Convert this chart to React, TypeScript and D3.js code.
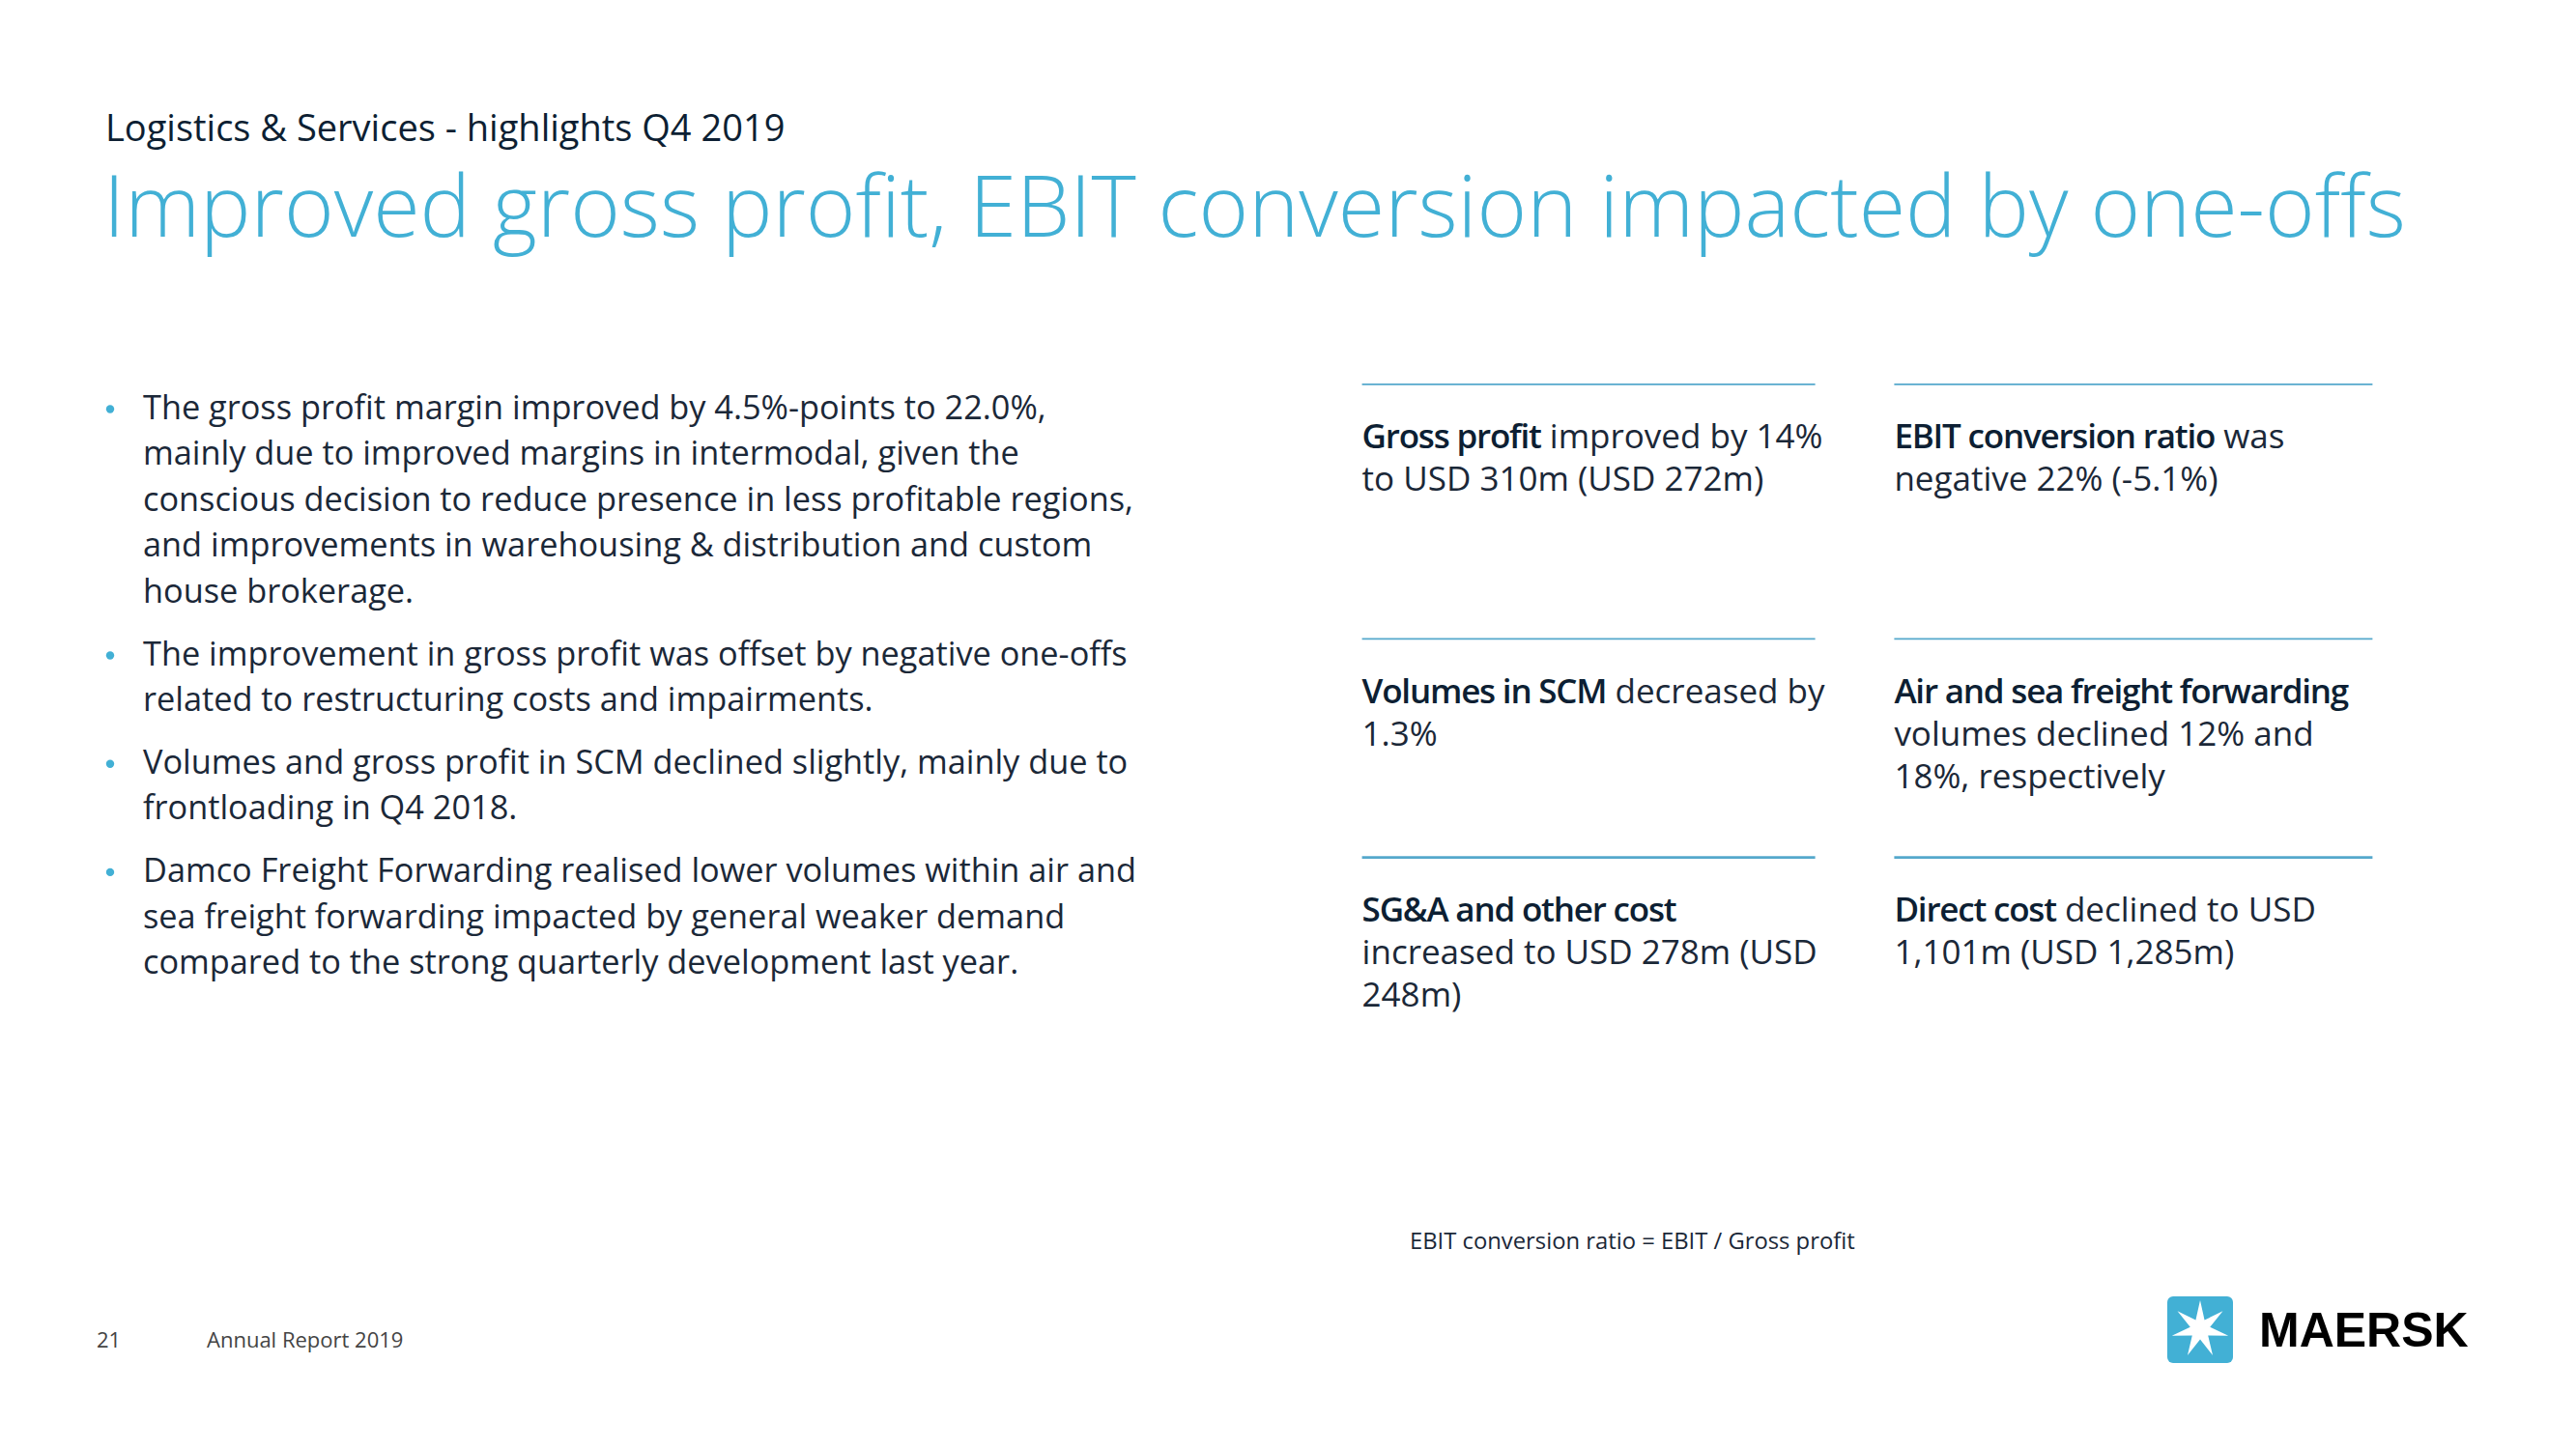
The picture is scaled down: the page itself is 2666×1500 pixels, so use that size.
import React from "react";
import * as d3 from "d3";

const subtitle = "Logistics & Services - highlights Q4 2019";
const title = "Improved gross profit, EBIT conversion impacted by one-offs";

const bullets: string[][] = [
  [
    "The gross profit margin improved by 4.5%-points to 22.0%,",
    "mainly due to improved margins in intermodal, given the",
    "conscious decision to reduce presence in less profitable regions,",
    "and improvements in warehousing & distribution and custom",
    "house brokerage.",
  ],
  [
    "The improvement in gross profit was offset by negative one-offs",
    "related to restructuring costs and impairments.",
  ],
  [
    "Volumes and gross profit in SCM declined slightly, mainly due to",
    "frontloading in Q4 2018.",
  ],
  [
    "Damco Freight Forwarding realised lower volumes within air and",
    "sea freight forwarding impacted by general weaker demand",
    "compared to the strong quarterly development last year.",
  ],
];

const panelRows = ["row1", "row2", "row3"];
const panelCols = ["left", "right"];
// lines with **bold** markup
const panels: { row: string; col: string; lines: string[] }[] = [
  { row: "row1", col: "left", lines: ["**Gross profit** improved by 14%", "to USD 310m (USD 272m)"] },
  { row: "row1", col: "right", lines: ["**EBIT conversion ratio** was", "negative 22% (-5.1%)"] },
  { row: "row2", col: "left", lines: ["**Volumes in SCM** decreased by", "1.3%"] },
  { row: "row2", col: "right", lines: ["**Air and sea freight forwarding**", "volumes declined 12% and", "18%, respectively"] },
  { row: "row3", col: "left", lines: ["**SG&A and other cost**", "increased to USD 278m (USD", "248m)"] },
  { row: "row3", col: "right", lines: ["**Direct cost** declined to USD", "1,101m (USD 1,285m)"] },
];

const footnote = "EBIT conversion ratio = EBIT / Gross profit";
const pageNumber = "21";
const reportLabel = "Annual Report 2019";
const brand = "MAERSK";

const BLUE = "#42b0d5";
const NAVY = "#0d1f33";
const TEXT = "#1b2838";
const FONT = "'Open Sans', 'Noto Sans', sans-serif";

function parseSegments(line: string) {
  return line.split("**").map((t, i) => ({ t, bold: i % 2 === 1 })).filter((s) => s.t.length > 0);
}

export default function App() {
  const W = 2666;
  const H = 1500;

  // bullet layout
  const lineH = 47.6;
  const paraGap = 17;
  const bulletTop = 433.5;
  const bulletY: number[][] = [];
  let y = bulletTop;
  bullets.forEach((para) => {
    const ys: number[] = [];
    para.forEach(() => {
      ys.push(y);
      y += lineH;
    });
    bulletY.push(ys);
    y += paraGap;
  });

  const colX = d3.scaleOrdinal<string, number>().domain(panelCols).range([1409.6, 1960.4]);
  const colW = d3.scaleOrdinal<string, number>().domain(panelCols).range([469, 495]);
  const rowY = d3.scaleOrdinal<string, number>().domain(panelRows).range([397.9, 661.4, 887.6]);
  const rowStroke = d3.scaleOrdinal<string, number>().domain(panelRows).range([1.6, 1.6, 2.6]);
  const panelLineH = 44;

  // Maersk star
  const cx = 2277, cy = 1376;
  const starPts = d3.range(14).map((i) => {
    const a = -Math.PI / 2 + (i * Math.PI) / 7;
    const r = i % 2 === 0 ? 30 : 10.5;
    return [cx + r * Math.cos(a), cy + r * Math.sin(a)] as [number, number];
  });
  const starPath = d3.line()(starPts) + "Z";

  return (
    <svg
      width={W}
      height={H}
      style={{ position: "absolute", left: 0, top: 0, background: "#fff" }}
      fontFamily={FONT}
    >
      <rect x={0} y={0} width={W} height={H} fill="#fff" />
      <text x={109} y={146} fontSize={38} fill={NAVY}>
        {subtitle}
      </text>
      <text x={107} y={245} fontSize={88.2} fontWeight={300} fill={BLUE}>
        {title}
      </text>

      {bullets.map((para, pi) => (
        <g key={pi}>
          <circle cx={114} cy={bulletY[pi][0] - 10} r={4.2} fill={BLUE} />
          {para.map((ln, li) => (
            <text key={li} x={148} y={bulletY[pi][li]} fontSize={34.3} fill={TEXT}>
              {ln}
            </text>
          ))}
        </g>
      ))}

      {panels.map((p, i) => {
        const x0 = colX(p.col);
        const y0 = rowY(p.row);
        return (
          <g key={i}>
            <line x1={x0} x2={x0 + colW(p.col)} y1={y0} y2={y0} stroke="#55a8cc" strokeWidth={rowStroke(p.row)} />
            {p.lines.map((ln, li) => (
              <text key={li} x={x0} y={y0 + 66.5 + li * panelLineH} fontSize={35} fill={TEXT}>
                {parseSegments(ln).map((s, si) => (
                  <tspan
                    key={si}
                    fontWeight={s.bold ? 600 : 400}
                    letterSpacing={s.bold ? -1.2 : 0}
                    fill={s.bold ? NAVY : TEXT}
                  >
                    {s.t}
                  </tspan>
                ))}
              </text>
            ))}
          </g>
        );
      })}

      <text x={1459} y={1293} fontSize={23.8} fill={TEXT}>
        {footnote}
      </text>
      <text x={100} y={1395} fontSize={22} fill="#444">
        {pageNumber}
      </text>
      <text x={214} y={1395} fontSize={22} fill="#444">
        {reportLabel}
      </text>

      <rect x={2243} y={1342} width={68} height={69} rx={6} fill={BLUE} />
      <path d={starPath} fill="#fff" />
      <text
        x={2338}
        y={1394}
        fontSize={50}
        fontWeight={900}
        fontFamily="'Liberation Sans', Arial, sans-serif"
        fill="#000"
      >
        {brand}
      </text>
    </svg>
  );
}
